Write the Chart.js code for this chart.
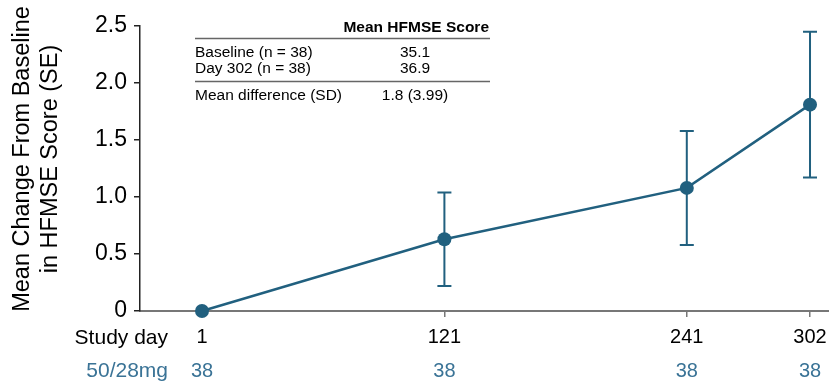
<!DOCTYPE html>
<html>
<head>
<meta charset="utf-8">
<script src="https://cdn.jsdelivr.net/npm/chart.js@4"></script>
<style>
  html, body { margin: 0; padding: 0; background: #fff; }
  #wrap { width: 829px; height: 385px; }
</style>
</head>
<body>
<div id="wrap"><canvas id="chart" width="829" height="385"></canvas></div>
<script>
// data
const days = [1, 121, 241, 302];
const meanChange = [0, 0.63, 1.08, 1.81];
const seLower = [0, 0.22, 0.58, 1.17];
const seUpper = [0, 1.04, 1.58, 2.45];
const nPatients = [38, 38, 38, 38];
const yTicks = [0, 0.5, 1.0, 1.5, 2.0, 2.5];
const rowLabels = ["Study day", "50/28mg"];
const yTitle = ["Mean Change From Baseline", "in HFMSE Score (SE)"];

const tableHeader = "Mean HFMSE Score";
const tableRows = [
  ["Baseline (n = 38)", "35.1"],
  ["Day 302 (n = 38)", "36.9"],
  ["Mean difference (SD)", "1.8 (3.99)"]
];

const lineColor = "#21607f";
const nColor = "#3a7396";
const font = "'Liberation Sans', Arial, sans-serif";

const errorBars = {
  id: 'errorBars',
  afterDatasetsDraw(chart) {
    const ctx = chart.ctx;
    const x = chart.scales.x, y = chart.scales.y;
    ctx.save();
    ctx.strokeStyle = lineColor;
    ctx.lineWidth = 2;
    days.forEach((d, i) => {
      if (seUpper[i] === seLower[i]) return;
      const px = x.getPixelForValue(d);
      const top = y.getPixelForValue(seUpper[i]);
      const bot = y.getPixelForValue(seLower[i]);
      ctx.beginPath();
      ctx.moveTo(px, top); ctx.lineTo(px, bot);
      ctx.moveTo(px - 7, top); ctx.lineTo(px + 7, top);
      ctx.moveTo(px - 7, bot); ctx.lineTo(px + 7, bot);
      ctx.stroke();
    });
    ctx.restore();
  }
};

const extraText = {
  id: 'extraText',
  afterDraw(chart) {
    const ctx = chart.ctx;
    const x = chart.scales.x;
    ctx.save();
    ctx.textBaseline = 'middle';

    // y axis title, two lines
    ctx.save();
    ctx.translate(0, 159);
    ctx.rotate(-Math.PI / 2);
    ctx.font = "23.5px " + font;
    ctx.fillStyle = '#000';
    ctx.textAlign = 'center';
    ctx.fillText(yTitle[0], 0, 23);
    ctx.fillText(yTitle[1], 0, 51);
    ctx.restore();

    // row labels under the axis
    ctx.font = "21px " + font;
    ctx.textAlign = 'right';
    ctx.fillStyle = '#000';
    ctx.fillText(rowLabels[0], 168, 338);
    ctx.fillStyle = nColor;
    ctx.fillText(rowLabels[1], 168, 371);
    ctx.font = "20px " + font;
    ctx.textAlign = 'center';
    days.forEach((d, i) => {
      ctx.fillText(String(nPatients[i]), x.getPixelForValue(d), 371);
    });

    // summary table
    ctx.fillStyle = '#000';
    ctx.font = "bold 15.5px " + font;
    ctx.textAlign = 'right';
    ctx.fillText(tableHeader, 489, 28);
    ctx.strokeStyle = '#666';
    ctx.lineWidth = 1.5;
    ctx.beginPath();
    ctx.moveTo(195, 38.5); ctx.lineTo(490, 38.5);
    ctx.moveTo(195, 81.5); ctx.lineTo(490, 81.5);
    ctx.stroke();
    ctx.font = "15.5px " + font;
    const rowY = [53, 69, 96];
    tableRows.forEach((r, i) => {
      ctx.textAlign = 'left';
      ctx.fillText(r[0], 195, rowY[i]);
      ctx.textAlign = 'center';
      ctx.fillText(r[1], 415, rowY[i]);
    });
    ctx.restore();
  }
};

new Chart(document.getElementById('chart').getContext('2d'), {
  type: 'line',
  data: {
    datasets: [{
      data: days.map((d, i) => ({ x: d, y: meanChange[i] })),
      borderColor: lineColor,
      backgroundColor: lineColor,
      borderWidth: 2.5,
      pointRadius: 7,
      pointHoverRadius: 7,
      pointBorderWidth: 0,
      tension: 0,
      clip: false
    }]
  },
  options: {
    responsive: false,
    animation: false,
    events: [],
    layout: { autoPadding: false, padding: { top: 26, right: 0, bottom: 0, left: 0 } },
    plugins: { legend: { display: false }, tooltip: { enabled: false } },
    scales: {
      x: {
        type: 'linear',
        min: -29.7,
        max: 311.4,
        afterBuildTicks: s => { s.ticks = days.map(v => ({ value: v })); },
        afterFit: s => { s.height = 74; s.paddingLeft = 0; s.paddingRight = 0; },
        ticks: {
          color: '#000',
          font: { family: font, size: 20 },
          padding: 8,
          maxRotation: 0,
          autoSkip: false,
          callback: v => String(v)
        },
        grid: { display: true, drawOnChartArea: false, tickLength: 6, color: '#777', lineWidth: 1.5 },
        border: { color: '#777', width: 2 }
      },
      y: {
        min: 0,
        max: 2.5,
        afterBuildTicks: s => { s.ticks = yTicks.map(v => ({ value: v })); },
        afterFit: s => { s.width = 140; s.paddingTop = 0; s.paddingBottom = 0; },
        ticks: {
          color: '#000',
          font: { family: font, size: 23 },
          padding: 7,
          callback: v => v === 0 ? '0' : v.toFixed(1)
        },
        grid: { display: true, drawOnChartArea: false, tickLength: 6, color: '#222', lineWidth: 1.5 },
        border: { color: '#222', width: 1.5 }
      }
    }
  },
  plugins: [errorBars, extraText]
});
</script>
</body>
</html>
